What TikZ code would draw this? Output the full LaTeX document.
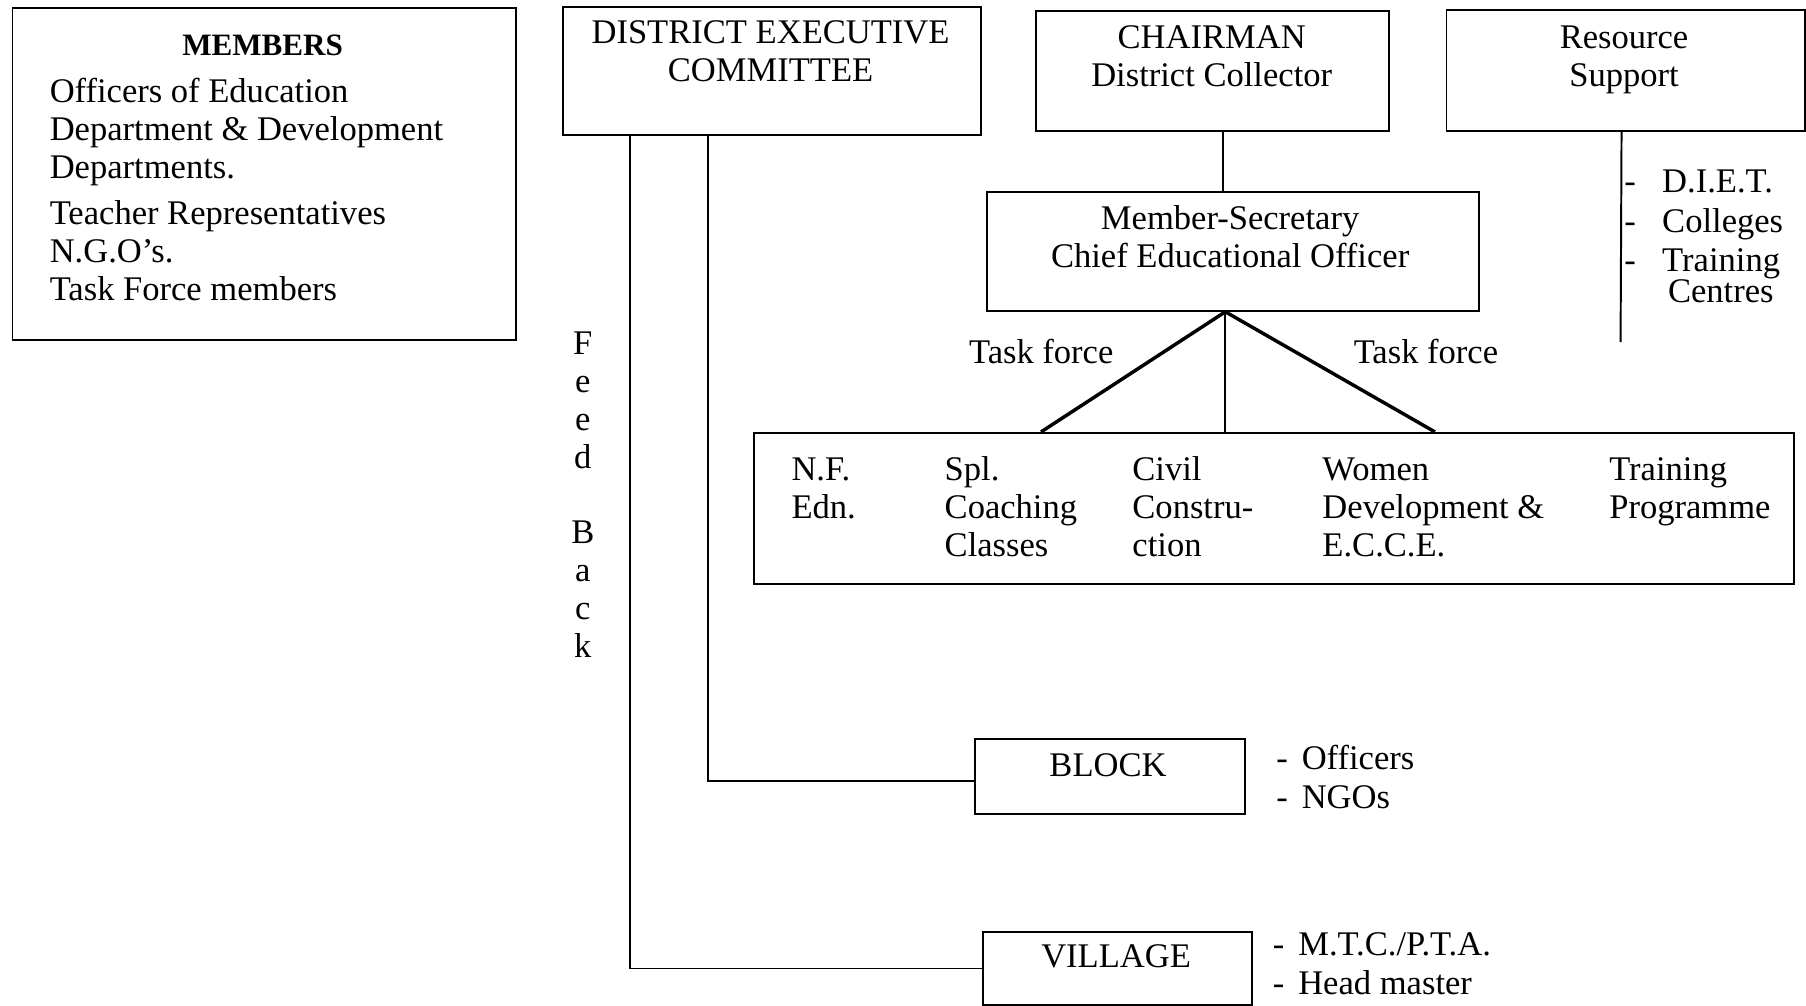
\documentclass[tikz,border=0pt]{standalone}
\usepackage{fontspec}
\setmainfont{Liberation Serif}
\begin{document}
\begin{tikzpicture}[x=1pt,y=-1pt,
  box/.style={draw,line width=1.7pt,inner sep=0pt,anchor=north west},
  txt/.style={inner sep=0pt,anchor=base,font=\fontsize{30}{33}\selectfont},
  conn/.style={line width=1.7pt},
  tf/.style={line width=3pt}]
\useasboundingbox (0,0) rectangle (1568,873);
% boxes
\node[box,minimum width=437pt,minimum height=288pt] (members) at (10,6) {};
\node[box,minimum width=363pt,minimum height=111pt] (dec) at (488,5) {};
\node[box,minimum width=306pt,minimum height=104pt] (chair) at (899,9) {};
\node[box,minimum width=311pt,minimum height=105pt] (res) at (1255,8) {};
\node[box,minimum width=427pt,minimum height=103pt] (ms) at (856,166) {};
\node[box,minimum width=903pt,minimum height=131pt] (task) at (654,375) {};
\node[box,minimum width=234pt,minimum height=65pt] (block) at (846,641) {};
\node[box,minimum width=233pt,minimum height=64pt] (village) at (853,808) {};
% box texts
\node[txt,font=\fontsize{27}{30}\selectfont\bfseries] (membersT) at (228,48) {MEMBERS};
\node[txt,anchor=base west] (membersL) at (43,89) {\begin{tabular}[t]{@{}l@{}}Officers of Education\\ Department \& Development\\ Departments.\\[7pt] Teacher Representatives\\ N.G.O's.\\ Task Force members\end{tabular}};
\node[txt] (decT) at (669,38) {\begin{tabular}[t]{@{}c@{}}DISTRICT EXECUTIVE\\ COMMITTEE\end{tabular}};
\node[txt] (chairT) at (1052,42) {\begin{tabular}[t]{@{}c@{}}CHAIRMAN\\ District Collector\end{tabular}};
\node[txt] (resT) at (1410,42) {\begin{tabular}[t]{@{}c@{}}Resource\\ Support\end{tabular}};
\node[txt] (msT) at (1068,199) {\begin{tabular}[t]{@{}c@{}}Member-Secretary\\ Chief Educational Officer\end{tabular}};
\node[txt] (blockT) at (962,674) {BLOCK};
\node[txt] (villageT) at (969,840) {VILLAGE};
% task columns
\node[txt,anchor=base west] (c1) at (687,417) {\begin{tabular}[t]{@{}l@{}}N.F.\\ Edn.\end{tabular}};
\node[txt,anchor=base west] (c2) at (820,417) {\begin{tabular}[t]{@{}l@{}}Spl.\\ Coaching\\ Classes\end{tabular}};
\node[txt,anchor=base west] (c3) at (983,417) {\begin{tabular}[t]{@{}l@{}}Civil\\ Constru-\\ ction\end{tabular}};
\node[txt,anchor=base west] (c4) at (1148,417) {\begin{tabular}[t]{@{}l@{}}Women\\ Development \&\\ E.C.C.E.\end{tabular}};
\node[txt,anchor=base west] (c5) at (1397,417) {\begin{tabular}[t]{@{}l@{}}Training\\ Programme\end{tabular}};
% side lists
\node[txt,anchor=base west] (resL) at (1410,167) {\begin{tabular}[t]{@{}l@{\hskip 23pt}l@{}}-&D.I.E.T.\\[2pt] -&Colleges\\[1pt] -&Training\\[-6pt] &\hskip 5pt Centres\end{tabular}};
\node[txt,anchor=base west] (blockL) at (1108,668) {\begin{tabular}[t]{@{}l@{}}-\hskip 12pt Officers\\[1pt] -\hskip 12pt NGOs\end{tabular}};
\node[txt,anchor=base west] (villageL) at (1105,830) {\begin{tabular}[t]{@{}l@{}}-\hskip 12pt M.T.C./P.T.A.\\ -\hskip 12pt Head master\end{tabular}};
% feed back
\node[txt] (fb) at (506,308) {\begin{tabular}[t]{@{}c@{}}F\\ e\\ e\\ d\\[32pt] B\\ a\\ c\\ k\end{tabular}};
% task force labels
\node[txt] (tfl) at (904,316) {Task force};
\node[txt] (tfr) at (1238,316) {Task force};
% connectors
\draw[conn] ([xshift=-123.5pt]dec.south) |- (village.west);
\draw[conn] ([xshift=-55.5pt]dec.south) |- ([yshift=-3.5pt]block.west);
\draw[conn] ([xshift=9pt]chair.south) -- ([xshift=9pt]chair.south |- ms.north);
\coordinate (apex) at ([xshift=-6.5pt]ms.south);
\draw[tf] (apex) -- ([xshift=-202.5pt]task.north);
\draw[conn] (apex) -- ([xshift=-42.5pt]task.north);
\draw[tf] (apex) -- ([xshift=139.5pt]task.north);
\coordinate (resend) at (1407,297);
\draw[conn] ([xshift=-3.5pt]res.south) -- (resend);
\end{tikzpicture}
\end{document}
